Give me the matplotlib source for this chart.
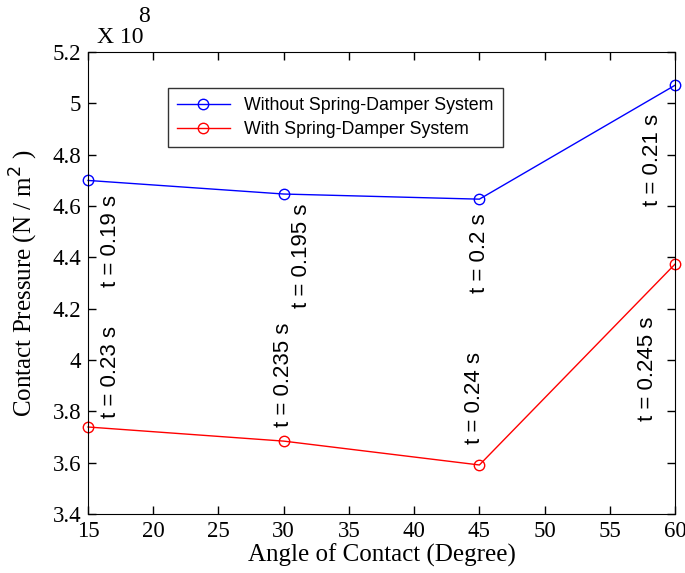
import matplotlib.pyplot as plt
from matplotlib.ticker import FormatStrFormatter

# contact angle (degree) and pressure (x 1e8 N/m^2)
angles = [15, 30, 45, 60]
without_damper = [4.70, 4.647, 4.627, 5.071]
with_damper = [3.739, 3.684, 3.591, 4.374]

# time labels and where they sit
labels_without = ["t = 0.19 s", "t = 0.195 s", "t = 0.2 s", "t = 0.21 s"]
labels_with = ["t = 0.23 s", "t = 0.235 s", "t = 0.24 s", "t = 0.245 s"]
label_x_without = [16.7, 31.4, 45.0, 58.25]
label_y_without = [4.463, 4.405, 4.417, 4.779]
label_x_with = [16.7, 29.95, 44.6, 57.9]
label_y_with = [3.953, 3.941, 3.852, 3.965]

serif = "Liberation Serif"
sans = "Liberation Sans"

fig = plt.figure(figsize=(6.85, 5.73), dpi=100)
ax = fig.add_axes([0.1285, 0.103, 0.857, 0.806])

ax.plot(angles, without_damper, color="blue", lw=1, marker="o", mfc="none",
        ms=7.5, mew=1, label="Without Spring-Damper System", clip_on=False)
ax.plot(angles, with_damper, color="red", lw=1, marker="o", mfc="none",
        ms=7.5, mew=1, label="With Spring-Damper System", clip_on=False)

for x, y, s in zip(label_x_without, label_y_without, labels_without):
    ax.text(x, y, s, rotation=90, ha="center", va="center", fontsize=16, family=sans)
for x, y, s in zip(label_x_with, label_y_with, labels_with):
    ax.text(x, y, s, rotation=90, ha="center", va="center", fontsize=16, family=sans)

ax.set_xlim(15, 60)
ax.set_ylim(3.4, 5.2)
ax.set_xticks(range(15, 61, 5))
ax.set_yticks([3.4, 3.6, 3.8, 4.0, 4.2, 4.4, 4.6, 4.8, 5.0, 5.2])
ax.yaxis.set_major_formatter(FormatStrFormatter("%g"))
ax.tick_params(direction="in", top=True, right=True, length=6, width=1,
               labelsize=16.5, pad=5)
for lab in ax.get_xticklabels() + ax.get_yticklabels():
    lab.set_family(serif)

ax.set_xlabel("Angle of Contact (Degree)", family=serif, fontsize=18, labelpad=1)
ax.set_ylabel("Contact Pressure (N / m$^{2}$ )", family=serif, fontsize=18, labelpad=9)

fig.text(97 / 685, 1 - 43 / 573, "X 10", family=serif, fontsize=17,
         ha="left", va="baseline")
fig.text(138 / 685, 1 - 22 / 573, "8", family=serif, fontsize=17,
         ha="left", va="baseline")

leg = ax.legend(loc="upper left", bbox_to_anchor=(0.136, 0.922),
                prop={"family": sans, "size": 12.8}, frameon=True, fancybox=False,
                edgecolor="black", borderpad=0.5, handlelength=3.0,
                labelspacing=0.4, borderaxespad=0)
leg.get_frame().set_linewidth(1)

fig.savefig("out.png", dpi=100)
